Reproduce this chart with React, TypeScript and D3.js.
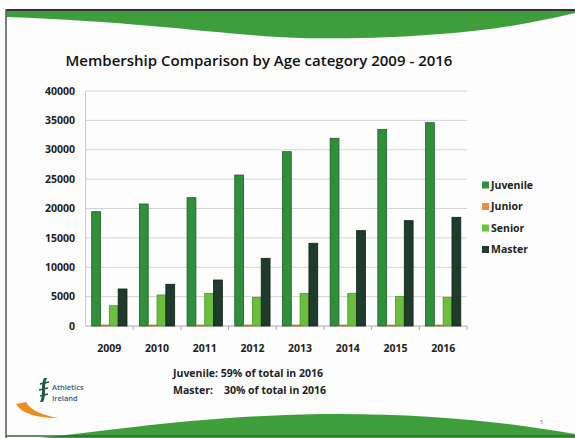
import React from "react";
import * as d3 from "d3";

const years = ["2009", "2010", "2011", "2012", "2013", "2014", "2015", "2016"];
const seriesNames = ["Juvenile", "Junior", "Senior", "Master"];
const juvenile = [19450, 20770, 21840, 25700, 29670, 31950, 33470, 34610];
const junior = [150, 150, 150, 150, 150, 150, 150, 150];
const senior = [3450, 5280, 5560, 4880, 5560, 5560, 5000, 4880];
const master = [6300, 7100, 7830, 11520, 14080, 16230, 17930, 18500];
const yTicks = [0, 5000, 10000, 15000, 20000, 25000, 30000, 35000, 40000];
const colors = ["#2f8f3a", "#e8913a", "#6cbf3c", "#1f3b2b"];
const strokes = ["#1d5e24", "#b06a20", "#4a9428", "#0f2218"];

export default function App() {
  const W = 575, H = 438;
  const left = 85.5, right = 467, top = 91, bottom = 326;
  const series = [juvenile, junior, senior, master];
  const x = d3.scaleBand<string>().domain(years).range([left, right]).paddingInner(0.26).paddingOuter(0.13);
  const xs = d3.scaleBand<string>().domain(seriesNames).range([0, x.bandwidth()]);
  const y = d3.scaleLinear().domain([0, 40000]).range([bottom, top]);
  const bandAll = d3.scaleBand<string>().domain(years).range([left, right]);
  const font = "'Open Sans', 'DejaVu Sans', sans-serif";

  const topWave = `M6,10 L575,10 L575,13 C545,20 500,30 440,34 C390,38 350,39 300,38 C230,36 150,22 6,17 Z`;
  const bottomWave = `M40,438 C100,432 200,416 320,414 C420,413 500,421 575,434 L575,438 Z`;

  return (
    <svg width={W} height={H} style={{ position: "absolute", left: 0, top: 0, background: "#fff" }} fontFamily={font}>
      <rect x={0} y={0} width={W} height={H} fill="#fdfdfd" />
      <path d={topWave} fill="#3f9e3c" />
      <line x1={6} y1={10} x2={575} y2={10} stroke="#333" strokeWidth={2} />
      <line x1={6} y1={9} x2={6} y2={438} stroke="#555" strokeWidth={1.5} />
      <path d={bottomWave} fill="#3f9e3c" />
      <line x1={6} y1={436} x2={575} y2={436} stroke="#2e6e2e" strokeWidth={1.5} />

      <text x={259} y={66} textAnchor="middle" fontSize={15} fontWeight={600} fill="#111">
        Membership Comparison by Age category 2009 - 2016
      </text>

      {yTicks.map((t) => (
        <g key={t}>
          <line x1={left} x2={right} y1={y(t)} y2={y(t)} stroke={t === 0 ? "#aaa" : "#d4d4d4"} strokeWidth={1} />
          <text x={75} y={y(t)} dy="0.35em" textAnchor="end" fontSize={10.5} fontWeight={700} fill="#222">
            {t}
          </text>
        </g>
      ))}
      <line x1={left} x2={left} y1={top} y2={bottom} stroke="#ccc" />
      {years.map((yr) => (
        <line key={"t" + yr} x1={(bandAll(yr) as number) + bandAll.bandwidth()} x2={(bandAll(yr) as number) + bandAll.bandwidth()} y1={bottom} y2={bottom + 4} stroke="#aaa" />
      ))}

      {years.map((yr, i) => (
        <g key={yr}>
          {series.map((s, k) => (
            <rect
              key={k}
              x={(x(yr) as number) + (xs(seriesNames[k]) as number)}
              y={y(s[i])}
              width={xs.bandwidth()}
              height={bottom - y(s[i])}
              fill={colors[k]}
              stroke={strokes[k]}
              strokeWidth={0.8}
            />
          ))}
          <text x={(bandAll(yr) as number) + bandAll.bandwidth() / 2} y={352} textAnchor="middle" fontSize={10.5} fontWeight={700} fill="#222">
            {yr}
          </text>
        </g>
      ))}

      {seriesNames.map((n, k) => (
        <g key={n} transform={`translate(482,${185 + k * 21.5})`}>
          <rect x={0} y={-3.5} width={7} height={7} fill={colors[k]} />
          <text x={9} y={0} dy="0.35em" fontSize={10.5} fontWeight={700} fill="#222">{n}</text>
        </g>
      ))}

      <text x={173} y={377} fontSize={10.5} fontWeight={700} fill="#222">Juvenile: 59% of total in 2016</text>
      <text x={173} y={394} fontSize={10.5} fontWeight={700} fill="#222" style={{ whiteSpace: "pre" }}>{"Master:    30% of total in 2016"}</text>

      <path d="M16,404 C22,414 38,418 58,418 C42,415 30,410 26,402 Z" fill="#f08a1c" />
      <path d="M44,378 C40,386 44,394 40,402 L43,402 C47,394 43,386 47,378 Z" fill="#1f5a3a" />
      <path d="M40,384 L49,382 M39,390 L48,388 M40,396 L48,394" stroke="#1f5a3a" strokeWidth={1.5} />
      <text x={52} y={390} fontSize={7.5} fontWeight={600} fill="#2b5a8a">Athletics</text>
      <text x={52} y={401} fontSize={7.5} fontWeight={600} fill="#2b5a8a">Ireland</text>

      <text x={540} y={424} fontSize={6} fill="#888">5</text>
    </svg>
  );
}
